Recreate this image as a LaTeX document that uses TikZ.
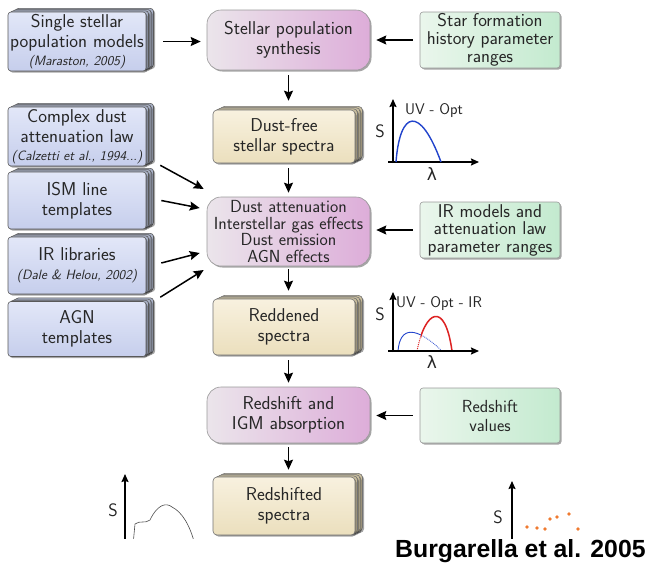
\documentclass[tikz,border=0pt]{standalone}
\usepackage{fontspec}
\newfontfamily\credfont{Liberation Sans}
\newfontfamily\symfont{DejaVu Sans}
\usetikzlibrary{arrows.meta,shadows,calc}
\definecolor{blueT}{HTML}{E2E7F8}
\definecolor{blueB}{HTML}{C6CEEC}
\definecolor{blueBack}{HTML}{A9B1C6}
\definecolor{pinkL}{HTML}{EBE5EB}
\definecolor{pinkR}{HTML}{DDADD9}
\definecolor{creamT}{HTML}{F8F1DF}
\definecolor{creamB}{HTML}{EBDFBD}
\definecolor{creamBack}{HTML}{C9BE9E}
\definecolor{greenL}{HTML}{EAF6EC}
\definecolor{greenR}{HTML}{C3EACF}
\definecolor{dotorange}{HTML}{F07A30}
\definecolor{curveblue}{HTML}{2244CC}
\definecolor{curvered}{HTML}{DD2222}
\newcommand\stackbox[7]{%
  \foreach \k in {3,2,1}{%
    \draw[#6back] ({#2-#4/2+2.5*\k},{#3-#5/2-1.2*\k}) rectangle ++(#4,#5);
  }%
  \node[#6face, minimum width=#4pt, minimum height=#5pt] (#1) at (#2,#3) {#7};
}
\newcommand\refit[1]{{\fontsize{13.5}{15}\selectfont\itshape #1}}
\tikzset{
  txt/.style={font=\sffamily\fontsize{18.6}{20}\selectfont, align=center, inner sep=0pt, text=black!85},
  shad/.style={drop shadow={shadow xshift=1.5pt, shadow yshift=-1.5pt, opacity=.35, fill=black}},
  blueface/.style={txt, draw=black!65, line width=.6pt, rounded corners=3pt, top color=blueT, bottom color=blueB, shad},
  blueback/.style={draw=black!65, line width=.6pt, rounded corners=3pt, fill=blueBack, shad},
  creamface/.style={txt, draw=black!55, line width=.6pt, rounded corners=4pt, top color=creamT, bottom color=creamB, shad},
  creamback/.style={draw=black!55, line width=.6pt, rounded corners=4pt, fill=creamBack, shad},
  pinkbox/.style={txt, draw=black!40, line width=.6pt, rounded corners=14pt, left color=pinkL, right color=pinkR, shad, minimum width=163pt},
  greenbox/.style={txt, draw=black!40, line width=.6pt, rounded corners=3pt, left color=greenL, right color=greenR, shad, minimum width=140pt},
  arr/.style={line width=1.5pt, -{Stealth[length=10pt,width=9pt,inset=1.5pt]}},
  axis/.style={line width=1.5pt, -{Stealth[length=8pt,width=7pt,inset=1pt]}},
  plotlab/.style={font=\sffamily\fontsize{18}{20}\selectfont, inner sep=0pt, text=black!85},
  lamlab/.style={font=\symfont\fontsize{17}{20}\selectfont, inner sep=0pt, text=black!85},
  smalllab/.style={font=\sffamily\fontsize{15.5}{17}\selectfont, inner sep=0pt, text=black!85},
}
\begin{document}
\begin{tikzpicture}[x=1pt,y=-1pt]
\fill[white] (0,0) rectangle (650,568);
\useasboundingbox (0,0) rectangle (650,568);
\begin{scope}
\clip (0,0) rectangle (650,538);
% left column
\stackbox{b1}{77}{41.5}{138}{59}{blue}{Single stellar\\population models\\[-2pt]\refit{(Maraston, 2005)}}
\stackbox{b2}{77}{136.5}{138}{59}{blue}{Complex dust\\attenuation law\\[-2pt]\refit{(Calzetti et al., 1994...)}}
\stackbox{b3}{77}{200.5}{138}{57}{blue}{ISM line\\templates}
\stackbox{b4}{77}{265.5}{138}{57}{blue}{IR libraries\\[-1pt]\refit{(Dale \& Helou, 2002)}}
\stackbox{b5}{77}{329}{138}{55}{blue}{AGN\\templates}
% centre column
\node[pinkbox, minimum height=60pt] (sps) at (288.5,40) {Stellar population\\synthesis};
\stackbox{dfree}{284}{136.5}{142}{53}{cream}{Dust-free\\stellar spectra}
\node[pinkbox, minimum height=69pt, font=\sffamily\fontsize{17.5}{16.5}\selectfont] (datt) at (288.5,231.5) {Dust attenuation\\Interstellar gas effects\\Dust emission\\AGN effects};
\stackbox{redd}{284}{327}{142}{56}{cream}{Reddened\\spectra}
\node[pinkbox, minimum height=56pt] (rsh) at (288.5,415) {Redshift and\\IGM absorption};
\stackbox{rshd}{284}{506}{142}{58}{cream}{Redshifted\\spectra}
% right column
\node[greenbox, minimum height=56pt, font=\sffamily\fontsize{18.5}{18}\selectfont] (sfh) at (490,40) {Star formation\\history parameter\\ranges};
\node[greenbox, minimum height=56pt, font=\sffamily\fontsize{18.5}{17.5}\selectfont] (irm) at (490,230) {IR models and\\attenuation law\\parameter ranges};
\node[greenbox, minimum height=55pt, font=\sffamily\fontsize{17.5}{19}\selectfont] (rsv) at (490,415.5) {Redshift\\values};
% horizontal arrows
\draw[arr] ([xshift=17pt]b1.east) -- ([xshift=-6pt]sps.west |- b1.east);
\draw[arr] ([xshift=-7pt]sfh.west) -- ([xshift=6pt]sps.east |- sfh.west);
\draw[arr] ([xshift=-7pt]irm.west) -- ([xshift=6pt]datt.east |- irm.west);
\draw[arr] ([xshift=-7pt]rsv.west) -- ([xshift=6pt]rsh.east |- rsv.west);
% vertical arrows
\draw[arr, shorten <=5pt, shorten >=9pt] (sps.south) -- (sps.south |- dfree.north);
\draw[arr, shorten <=5pt, shorten >=4pt] (datt.north |- dfree.south) -- (datt.north);
\draw[arr, shorten <=3pt, shorten >=8pt] (datt.south) -- (datt.south |- redd.north);
\draw[arr, shorten <=5pt, shorten >=4pt] (rsh.north |- redd.south) -- (rsh.north);
\draw[arr, shorten <=4pt, shorten >=7pt] (rsh.south) -- (rsh.south |- rshd.north);
% diagonal arrows into dust attenuation
\coordinate (in2) at ($(datt.west)+(-3,-42.5)$);
\coordinate (in3) at ($(datt.west)+(-7,-23.5)$);
\coordinate (in4) at ($(datt.west)+(-7,21.5)$);
\coordinate (in5) at ($(datt.west)+(-3,38.5)$);
\draw[arr] ([shift={(14,-1)}]b2.south east) -- (in2);
\draw[arr] ([shift={(15,0)}]b3.east) -- (in3);
\draw[arr] ([shift={(15,-2.5)}]b4.east) -- (in4);
\draw[arr] ([shift={(14,-4)}]b5.north east) -- (in5);
% UV - Opt plot
\draw[axis] (393,163) -- (393,99);
\draw[axis] (388,162) -- (479,162);
\draw[curveblue, line width=1.4pt] (396,162) .. controls (400,110) and (420,105) .. (441,162);
\node[plotlab] (s1) at (380,131) {S};
\node[smalllab] (uv1) at (434,111) {UV - Opt};
\node[lamlab] (l1) at (432,174) {λ};
% UV - Opt - IR plot
\begin{scope}
\clip (390,280) rectangle (421,352);
\draw[curveblue, line width=0.9pt] (398,351) .. controls (400,326) and (416,326) .. (442,351);
\draw[curvered, line width=1pt, densely dotted] (417,351) .. controls (425,310) and (445,300) .. (452,351);
\end{scope}
\begin{scope}
\clip (421,280) rectangle (470,352);
\draw[curveblue, line width=0.8pt, densely dotted] (398,351) .. controls (400,326) and (416,326) .. (442,351);
\draw[curvered, line width=1.5pt] (417,351) .. controls (425,310) and (445,300) .. (452,351);
\end{scope}
\draw[axis] (393,352) -- (393,292);
\draw[axis] (388,351) -- (479,351);
\node[plotlab] (s2) at (380,314) {S};
\node[smalllab, anchor=west] (uv2) at (396,304) {UV - Opt - IR};
\node[lamlab] (l2) at (432,362) {λ};
% bottom-left plot
\draw[axis] (125,545) -- (125,474);
\node[plotlab] (s3) at (113,510) {S};
\draw[black!70, line width=.6pt] (133,545) -- (135,524) .. controls (140,520) and (145,524) .. (150,520) .. controls (157,505) and (166,502) .. (172,507) .. controls (182,512) and (190,525) .. (195,545);
% bottom-right plot
\draw[axis] (512,545) -- (512,481);
\node[plotlab] (s4) at (498,517) {S};
\foreach \p in {(527,527),(537,528),(545,529),(550,519),(557,517),(569,514),(578,529)}
  \fill[dotorange] \p circle (1.8);
\end{scope}
\node[anchor=base west, inner sep=0pt, font=\credfont\bfseries\fontsize{24.8}{28}\selectfont] (cred) at (395,557) {Burgarella et al. 2005};
\end{tikzpicture}
\end{document}
